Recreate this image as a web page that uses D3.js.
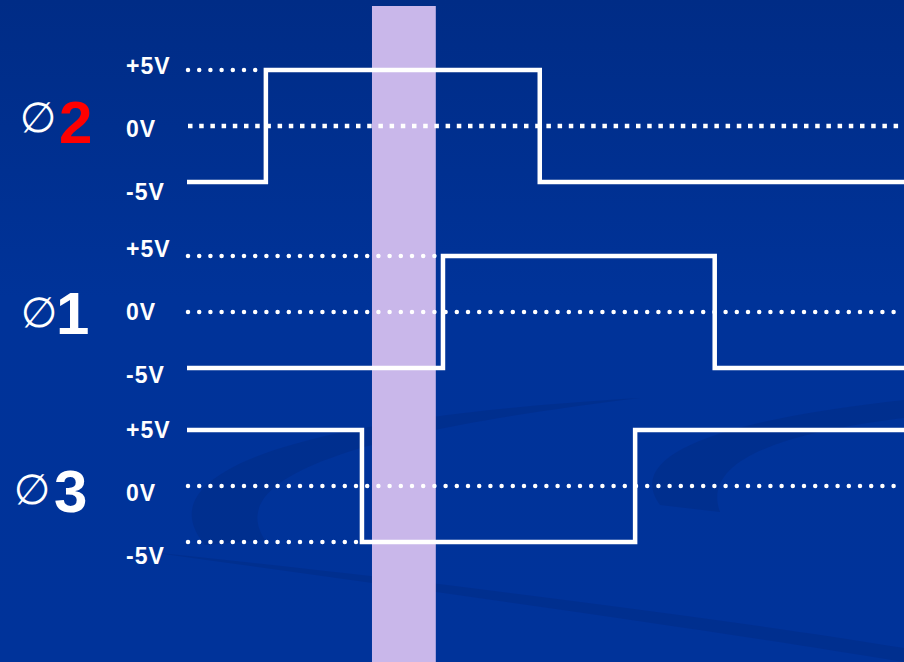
<!DOCTYPE html>
<html lang="en">
<head>
  <meta charset="UTF-8" />
  <title>Three-phase clock</title>
  <script src="https://d3js.org/d3.v7.min.js"></script>
  <style>
    html, body { margin: 0; padding: 0; background: #003399; }
    svg { display: block; }
    .lvl { font-family: "Liberation Sans", Arial, sans-serif; font-weight: bold; font-size: 23px; letter-spacing: 1px; fill: #fff; }
    .sym { font-family: "DejaVu Sans", sans-serif; font-size: 42px; fill: #fff; }
    .num { font-family: "Liberation Sans", Arial, sans-serif; font-weight: bold; font-size: 60px; }
    .wave { fill: none; stroke: #fff; stroke-width: 4.5px; stroke-linejoin: miter; }
    .dots { fill: none; stroke: #fff; stroke-width: 4.5px; stroke-linecap: round; stroke-dasharray: 0 11.2; }
    .dots.square { stroke-linecap: butt; stroke-dasharray: 4.5 6.7; }
  </style>
</head>
<body>
  <svg id="chart" width="904" height="662"></svg>
  <script>
    // data
    const phases      = ['2', '1', '3'];
    const phaseColors = ['#ff0000', '#ffffff', '#ffffff'];
    const startLevels = [-5, -5, 5];
    const edgeTimes   = [[1.10, 4.92], [3.57, 7.36], [2.44, 6.25]];
    const levels      = [5, 0, -5];
    const levelLabels = ['+5V', '0V', '-5V'];
    const timeSpan    = [0, 10];
    const window_     = [2.58, 3.47];

    // layout
    const W = 904, H = 662;
    const panelTop = [70, 256, 430], panelH = 112;
    const labelMid = [129, 312, 493], labelGap = 63;
    const symX = [38, 39, 32], symMid = [117, 312, 489];
    const numX = [59, 56, 54], numBase = [143, 334, 512];

    const svg = d3.select('#chart');
    const defs = svg.append('defs');
    const grad = defs.append('linearGradient').attr('id', 'bg').attr('x1', 0).attr('y1', 0).attr('x2', 0).attr('y2', 1);
    grad.append('stop').attr('offset', '0%').attr('stop-color', '#002c86');
    grad.append('stop').attr('offset', '45%').attr('stop-color', '#003399');
    grad.append('stop').attr('offset', '100%').attr('stop-color', '#00339a');
    svg.append('rect').attr('width', W).attr('height', H).attr('fill', 'url(#bg)');

    // faint swirl decoration
    const swirl = svg.append('g').attr('fill', '#00287c').attr('opacity', 0.35);
    swirl.append('path').attr('d', 'M205,545 C150,480 260,420 640,398 C420,425 215,465 265,540 Z');
    swirl.append('path').attr('d', 'M660,505 C620,450 740,418 904,400 L904,418 C790,432 700,458 720,512 Z');
    swirl.append('path').attr('d', 'M150,552 C420,590 700,628 904,662 L904,648 C700,615 420,580 150,552 Z');

    const x = d3.scaleLinear().domain(timeSpan).range([187, W]);

    // highlighted time window
    svg.append('rect')
      .attr('x', x(window_[0])).attr('y', 6)
      .attr('width', x(window_[1]) - x(window_[0])).attr('height', H - 6)
      .attr('fill', '#c9b7ea');

    phases.forEach((p, i) => {
      const y = d3.scaleLinear().domain([-5, 5]).range([panelTop[i] + panelH, panelTop[i]]);
      const g = svg.append('g');
      const L = startLevels[i];

      // dotted reference lines: 0V full width, opposite level up to first edge
      const refs = [{ v: 0, t1: timeSpan[1] }, { v: -L, t1: edgeTimes[i][0] }];
      refs.forEach(r => {
        g.append('line').attr('class', 'dots' + (i === 0 && r.v === 0 ? ' square' : ''))
          .attr('x1', x(timeSpan[0]) + 1).attr('x2', x(r.t1))
          .attr('y1', y(r.v)).attr('y2', y(r.v));
      });

      // waveform
      const pts = [[timeSpan[0], L]];
      let cur = L;
      edgeTimes[i].forEach(t => { cur = -cur; pts.push([t, cur]); });
      pts.push([timeSpan[1], cur]);
      const line = d3.line().x(d => x(d[0])).y(d => y(d[1])).curve(d3.curveStepAfter);
      g.append('path').attr('class', 'wave').attr('d', line(pts));

      // level labels
      levels.forEach((v, k) => {
        g.append('text').attr('class', 'lvl')
          .attr('x', 126).attr('y', labelMid[i] + (k - 1) * labelGap + 8)
          .text(levelLabels[k]);
      });

      // phase name
      g.append('text').attr('class', 'sym').attr('x', symX[i]).attr('y', symMid[i])
        .attr('text-anchor', 'middle').attr('dominant-baseline', 'central').text('∅');
      g.append('text').attr('class', 'num').attr('x', numX[i]).attr('y', numBase[i])
        .attr('fill', phaseColors[i]).text(p);
    });
  </script>
</body>
</html>
